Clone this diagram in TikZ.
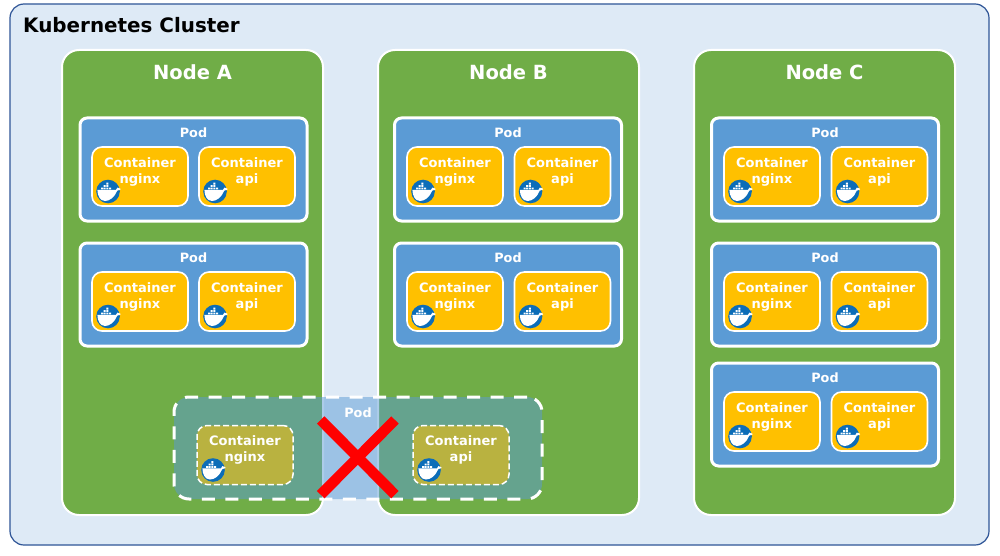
\documentclass[tikz,border=0pt]{standalone}
\usepackage{fontspec}
\setmainfont{DejaVu Sans}
\definecolor{clusterfill}{HTML}{DEEAF6}
\definecolor{clusterline}{HTML}{2F5597}
\definecolor{nodegreen}{HTML}{70AD47}
\definecolor{podblue}{HTML}{5B9BD5}
\definecolor{ctramber}{HTML}{FFC000}
\definecolor{dockerblue}{HTML}{0C6DB8}
\tikzset{
  x=1pt,y=-1pt,
  clusterbox/.style={draw=clusterline,line width=1.2pt,fill=clusterfill,rounded corners=14pt,minimum width=979pt,minimum height=541pt,inner sep=0pt},
  nodebox/.style={draw=white,line width=2pt,fill=nodegreen,rounded corners=17pt,minimum width=261pt,minimum height=465pt,inner sep=0pt},
  podbox/.style={draw=white,line width=3pt,fill=podblue,rounded corners=7pt,minimum width=227pt,minimum height=103pt,inner sep=0pt},
  ctrbox/.style={draw=white,line width=1.6pt,fill=ctramber,rounded corners=10pt,minimum width=96pt,minimum height=59pt,inner sep=0pt},
  ghostpod/.style={draw=white,line width=3pt,dash pattern=on 13pt off 10.5pt,fill=podblue,fill opacity=.5,draw opacity=1,rounded corners=15pt,minimum width=368pt,minimum height=102pt,inner sep=0pt},
  ghostctr/.style={draw=white,line width=1.5pt,dash pattern=on 6pt off 3pt,fill=ctramber,fill opacity=.55,draw opacity=1,rounded corners=10pt,minimum width=96pt,minimum height=59pt,inner sep=0pt},
  whitelabel/.style={text=white,font=\bfseries\fontsize{13}{15}\selectfont,inner sep=0pt},
  podlabel/.style={text=white,font=\bfseries\fontsize{12.8}{15}\selectfont,inner sep=0pt},
  nodelabel/.style={text=white,font=\bfseries\fontsize{19.5}{22}\selectfont,inner sep=0pt},
  clusterlabel/.style={text=black,font=\bfseries\fontsize{19.9}{22}\selectfont,inner sep=0pt,anchor=west},
  redcross/.style={draw=red,line width=10.5pt},
  whale/.pic={
    \fill[dockerblue] (0,0) circle (11.8);
    \fill[white] (-10.6,-1.6) -- (8,-1.6) .. controls (8.5,-4) and (10,-4.5) .. (10.5,-3.5)
      .. controls (12.5,-3.5) and (13,-2.5) .. (12.5,-2) .. controls (11.5,-1) and (10.5,-.8) .. (9.2,-.8)
      .. controls (6.5,6) and (1.5,9.5) .. (-3,9.5) .. controls (-8,9.5) and (-10.6,4) .. cycle;
    \fill[white] (-7,-4) rectangle (-5,-2.2) (-4.3,-4) rectangle (-2.3,-2.2) (-1.6,-4) rectangle (.4,-2.2) (1.1,-4) rectangle (3.1,-2.2)
      (-4.3,-6.4) rectangle (-2.3,-4.6) (-1.6,-6.4) rectangle (.4,-4.6) (-1.6,-8.8) rectangle (.4,-7);
  }
}
% #1 prefix, #2 box left, #3 box top, #4 second line, #5 box style
\newcommand{\ctrbx}[6]{%
  \node[#5] (#1) at (#2+48,#3+29.5) {};
  \node[whitelabel] (#1t) at (#2+#6,#3+15.6) {Container};
  \node[whitelabel] (#1n) at (#2+#6,#3+32.6) {#4};
  \pic at (#2+16,#3+44.5) {whale};
}
% #1 prefix, #2 pod left, #3 pod top, #4 first ctr left, #5 second ctr left
\newcommand{\podbx}[5]{%
  \node[podbox] (#1) at (#2+113.5,#3+51.5) {};
  \node[podlabel] (#1l) at (#2+113.5,#3+15) {Pod};
  \ctrbx{#1a}{#4}{#3+29}{nginx}{ctrbox}{48}
  \ctrbx{#1b}{#5}{#3+29}{api}{ctrbox}{48}
}
\begin{document}
\begin{tikzpicture}
\useasboundingbox (0,0) rectangle (1000,556);
\fill[white] (0,0) rectangle (1000,556);
\node[clusterbox] (cluster) at (499.5,274.5) {};
\node[clusterlabel] (clusterl) at (23,25) {Kubernetes Cluster};

\node[nodebox] (nA) at (192.5,282.5) {};
\node[nodebox] (nB) at (508.5,282.5) {};
\node[nodebox] (nC) at (824.5,282.5) {};
\node[nodelabel] (nAl) at (192.5,72) {Node A};
\node[nodelabel] (nBl) at (508.5,72) {Node B};
\node[nodelabel] (nCl) at (824.5,72) {Node C};

\podbx{pa}{80}{118}{92}{199}
\podbx{pb}{80}{243}{92}{199}
\podbx{pc}{394.5}{118}{407}{514.5}
\podbx{pd}{394.5}{243}{407}{514.5}
\podbx{pe}{711.5}{118}{724}{831.5}
\podbx{pf}{711.5}{243}{724}{831.5}
\podbx{pg}{711.5}{363}{724}{831.5}

\node[ghostpod] (gp) at (358,448) {};
\node[podlabel] (gpl) at (358,413) {Pod};
\ctrbx{ga}{197}{425.5}{nginx}{ghostctr}{48}
\ctrbx{gb}{413}{425.5}{api}{ghostctr}{48}

\coordinate (x1) at (320.7,420);
\coordinate (x2) at (395,494.7);
\coordinate (x3) at (395,420);
\coordinate (x4) at (320.7,494.7);
\draw[redcross] (x1) -- (x2);
\draw[redcross] (x3) -- (x4);
\end{tikzpicture}
\end{document}
